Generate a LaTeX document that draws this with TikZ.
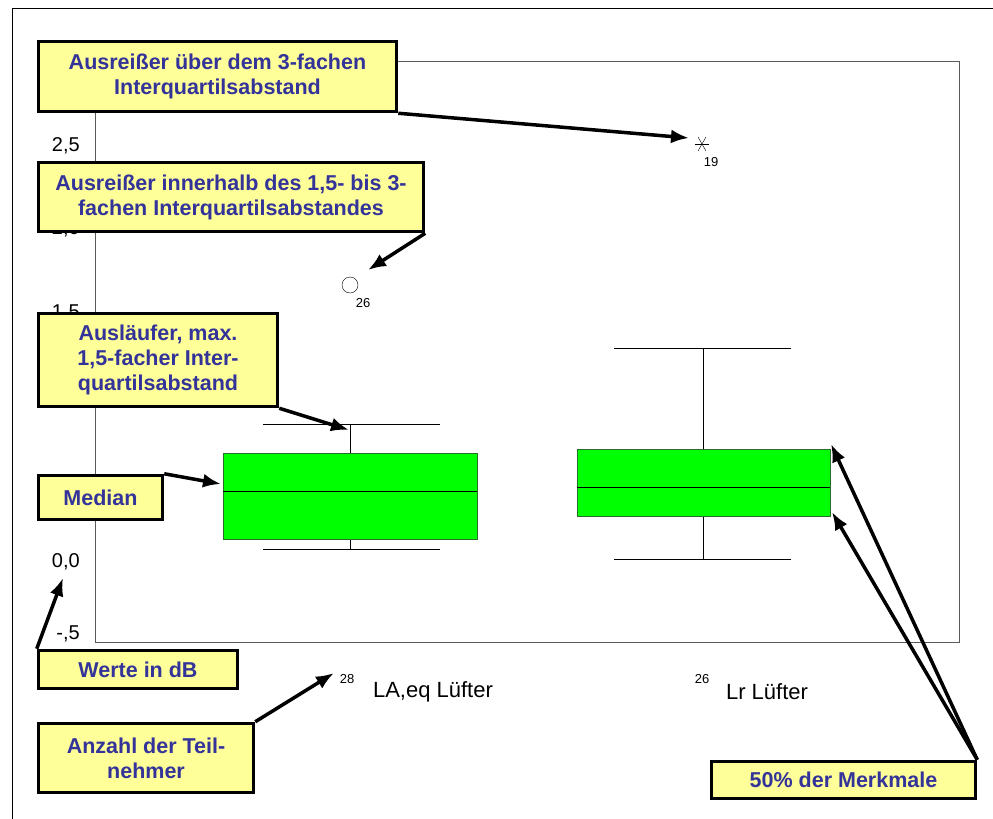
\documentclass[tikz,border=0pt]{standalone}
\usepackage{fontspec}
\setmainfont{Liberation Sans}
\usetikzlibrary{arrows.meta}
\definecolor{notefill}{RGB}{255,255,153}
\definecolor{notetext}{RGB}{51,51,153}
\definecolor{boxgreen}{RGB}{0,255,0}
\definecolor{boxedge}{RGB}{40,110,40}
\begin{document}
\begin{tikzpicture}[x=1pt,y=-1pt,
  note/.style={draw,line width=3.5pt,fill=notefill,text=notetext,align=center,
    inner sep=0pt,font=\fontsize{21.5}{25}\selectfont\bfseries},
  pointer/.style={line width=3.5pt,-{Latex[length=18pt,width=14pt]}},
  tick/.style={anchor=east,inner sep=0pt,font=\fontsize{20}{24}\selectfont},
  cat/.style={inner sep=0pt,font=\fontsize{22}{24}\selectfont},
  small/.style={inner sep=0pt,font=\fontsize{13}{15}\selectfont},
  frame/.style={draw=black!65,line width=1pt},
  quart/.style={fill=boxgreen,draw=boxedge,line width=1pt}]
  \useasboundingbox (0,0) rectangle (993,819);
  \draw[line width=1pt] (12,819) -- (12,8) -- (993,8);
  \draw[frame] (95,642) -- (95,61) -- (959,61) -- (959,642) -- cycle;

  \node[tick] (t25) at (80,146) {2,5};
  \node[tick] (t20) at (80,229) {2,0};
  \node[tick] (t15) at (80,313) {1,5};
  \node[tick] (t00) at (80,562) {0,0};
  \node[tick] (tm5) at (80,634) {-,5};

  \begin{scope}
    \draw (350,424) -- (350,549);
    \draw (263,424) -- (440,424);
    \draw (263,549) -- (440,549);
    \filldraw[quart] (223,453) rectangle (477,539);
    \draw (223,491) -- (477,491);
  \end{scope}
  \begin{scope}
    \draw (703,348) -- (703,559);
    \draw (614,348) -- (791,348);
    \draw (614,559) -- (791,559);
    \filldraw[quart] (577,449) rectangle (830,516);
    \draw (577,487) -- (830,487);
  \end{scope}

  \coordinate (star) at (702,144);
  \draw (star) ++(-7,0) -- ++(14,0);
  \draw (star) ++(-4,-7) -- ++(8,14);
  \draw (star) ++(4,-7) -- ++(-8,14);
  \node[small] (n19) at (711,162) {19};
  \node[draw,circle,minimum size=16pt,inner sep=0pt] (ring) at (350,285) {};
  \node[small] (n26a) at (363,303) {26};

  \node[small] (n28) at (347,679) {28};
  \node[cat] (laeq) at (433,692) {LA,eq Lüfter};
  \node[small] (n26b) at (702,679) {26};
  \node[cat] (lr) at (767,692) {Lr Lüfter};

  \node[note,minimum width=358pt,minimum height=70pt] (far) at (217.5,76.5)
    {Ausreißer über dem 3-fachen\\Interquartilsabstand};
  \node[note,minimum width=385pt,minimum height=69pt] (near) at (231,197)
    {Ausreißer innerhalb des 1,5- bis 3-\\fachen Interquartilsabstandes};
  \node[note,minimum width=239pt,minimum height=93pt] (whisk) at (158,360)
    {Ausläufer, max.\\1,5-facher Inter-\\quartilsabstand};
  \node[note,minimum width=124pt,minimum height=44pt] (median) at (100.5,497.5) {Median};
  \node[note,minimum width=199pt,minimum height=38pt] (unit) at (138,669.5) {Werte in dB};
  \node[note,minimum width=215pt,minimum height=69pt] (count) at (146,758)
    {Anzahl der Teil-\\nehmer};
  \node[note,minimum width=264pt,minimum height=37pt] (half) at (843.5,780) {50\% der Merkmale};

  \coordinate (tipfar) at (689,138);
  \coordinate (tipnear) at (368,270);
  \coordinate (tipwhisk) at (349,430);
  \coordinate (tipmed) at (221,484);
  \coordinate (tipunit) at (63,578);
  \coordinate (tipcount) at (334,673);
  \coordinate (tipup) at (831,444);
  \coordinate (tiplow) at (832,512);

  \draw[pointer] (far.south east) -- (tipfar);
  \draw[pointer] (near.south east) -- (tipnear);
  \draw[pointer] (whisk.south east) -- (tipwhisk);
  \draw[pointer] (median.north east) -- (tipmed);
  \draw[pointer] (unit.north west) -- (tipunit);
  \draw[pointer] (count.north east) -- (tipcount);
  \draw[pointer] (half.north east) -- (tipup);
  \draw[pointer] (half.north east) -- (tiplow);
\end{tikzpicture}
\end{document}
